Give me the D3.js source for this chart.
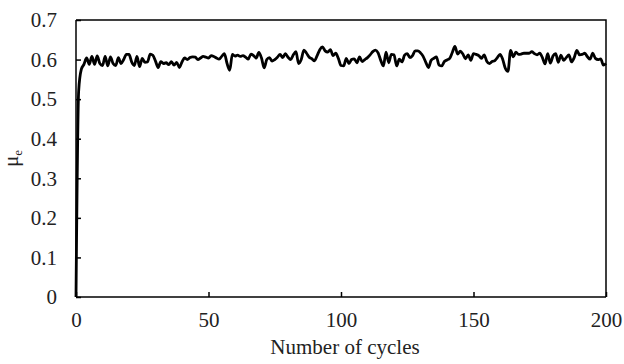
<!DOCTYPE html>
<html>
<head>
<meta charset="utf-8">
<script src="https://cdn.jsdelivr.net/npm/d3@7"></script>
<style>
  body { margin: 0; background: #fff; }
  .axis text { font-family: "Liberation Serif", "Times New Roman", serif; font-size: 21px; fill: #222; }
  .axis path, .axis line { stroke: #000; stroke-width: 1.5px; }
  .axisText { font-family: "Liberation Serif", "Times New Roman", serif; font-size: 21px; fill: #222; }
</style>
</head>
<body>
<div class="chart"></div>
<script>
var svgWidth = 624;
var svgHeight = 364;

var margin = { top: 20, right: 18, bottom: 67, left: 76 };

var width = svgWidth - margin.left - margin.right;
var height = svgHeight - margin.top - margin.bottom;

// friction coefficient per cycle (cycle 0..200)
var muValues = [
  0, 0.52, 0.575, 0.588, 0.604, 0.588, 0.608, 0.588, 0.609, 0.590,
  0.585, 0.608, 0.584, 0.607, 0.590, 0.585, 0.605, 0.590, 0.600, 0.613,
  0.613, 0.594, 0.585, 0.608, 0.582, 0.603, 0.593, 0.594, 0.614, 0.611,
  0.596, 0.580, 0.595, 0.590, 0.592, 0.587, 0.595, 0.586, 0.593, 0.580,
  0.594, 0.604, 0.600, 0.605, 0.607, 0.606, 0.600, 0.604, 0.608, 0.606,
  0.604, 0.610, 0.608, 0.604, 0.601, 0.608, 0.615, 0.590, 0.573, 0.613,
  0.609, 0.611, 0.608, 0.610, 0.606, 0.601, 0.614, 0.610, 0.604, 0.618,
  0.604, 0.579, 0.600, 0.605, 0.596, 0.600, 0.606, 0.613, 0.605, 0.615,
  0.606, 0.600, 0.612, 0.620, 0.590, 0.600, 0.624, 0.616, 0.606, 0.602,
  0.597, 0.610, 0.625, 0.632, 0.622, 0.619, 0.625, 0.610, 0.616, 0.603,
  0.585, 0.584, 0.603, 0.590, 0.600, 0.602, 0.592, 0.607, 0.595, 0.600,
  0.605, 0.612, 0.620, 0.624, 0.617, 0.598, 0.584, 0.619, 0.592, 0.613,
  0.612, 0.584, 0.601, 0.594, 0.611, 0.615, 0.605, 0.610, 0.622, 0.622,
  0.617, 0.608, 0.593, 0.580, 0.598, 0.603, 0.607, 0.586, 0.584, 0.595,
  0.599, 0.603, 0.618, 0.633, 0.614, 0.621, 0.614, 0.602, 0.612, 0.598,
  0.615, 0.613, 0.610, 0.603, 0.612, 0.596, 0.590, 0.595, 0.597, 0.605,
  0.613, 0.601, 0.578, 0.570, 0.623, 0.607, 0.619, 0.613, 0.614, 0.616,
  0.616, 0.616, 0.620, 0.615, 0.612, 0.616, 0.605, 0.589, 0.615, 0.591,
  0.609, 0.615, 0.593, 0.611, 0.598, 0.605, 0.612, 0.594, 0.605, 0.623,
  0.612, 0.613, 0.616, 0.607, 0.601, 0.616, 0.603, 0.600, 0.602, 0.586,
  0.590
];
var cycles = d3.range(muValues.length);

var xTicks = [0, 50, 100, 150, 200];
var yTicks = [0, 0.1, 0.2, 0.3, 0.4, 0.5, 0.6, 0.7];

var svg = d3.select(".chart")
  .append("svg")
  .attr("width", svgWidth)
  .attr("height", svgHeight);

var chartGroup = svg.append("g")
  .attr("transform", `translate(${margin.left}, ${margin.top})`);

var xScale = d3.scaleLinear().domain([0, 200]).range([0, width]);
var yScale = d3.scaleLinear().domain([0, 0.7]).range([height, 0]);

var bottomAxis = d3.axisBottom(xScale).tickValues(xTicks).tickSize(-5).tickPadding(15).tickFormat(d3.format("d"));
var leftAxis = d3.axisLeft(yScale).tickValues(yTicks).tickSize(-5).tickPadding(19).tickFormat(d => d === 0 ? "0" : d3.format(".1f")(d));

chartGroup.append("g")
  .attr("class", "axis")
  .attr("transform", `translate(0, ${height})`)
  .call(bottomAxis);

chartGroup.append("g")
  .attr("class", "axis")
  .call(leftAxis);

// top and right frame lines
chartGroup.append("path")
  .attr("d", `M0,0H${width}V${height}`)
  .attr("fill", "none")
  .attr("stroke", "#000")
  .attr("stroke-width", 1.5);

chartGroup.selectAll(".axis .domain").attr("d", function() {
  return d3.select(this.parentNode).attr("transform") ? `M0,0H${width}` : `M0,0V${height}`;
});

var line = d3.line()
  .x((d, i) => xScale(cycles[i]))
  .y(d => yScale(d))
  .curve(d3.curveMonotoneX);

chartGroup.append("path")
  .datum(muValues)
  .attr("fill", "none")
  .attr("stroke", "#000")
  .attr("stroke-width", 2.8)
  .attr("stroke-linejoin", "round")
  .attr("d", line);

// axes labels
var yLabel = chartGroup.append("text")
  .attr("transform", `translate(${-margin.left + 18}, ${height / 2}) rotate(-90)`)
  .attr("text-anchor", "middle")
  .attr("class", "axisText");
yLabel.append("tspan").text("μ");
yLabel.append("tspan").attr("dy", 4).style("font-size", "13px").text("e");

chartGroup.append("text")
  .attr("transform", `translate(${width / 2 + 4}, ${height + 57})`)
  .attr("text-anchor", "middle")
  .attr("class", "axisText")
  .text("Number of cycles");
</script>
</body>
</html>
